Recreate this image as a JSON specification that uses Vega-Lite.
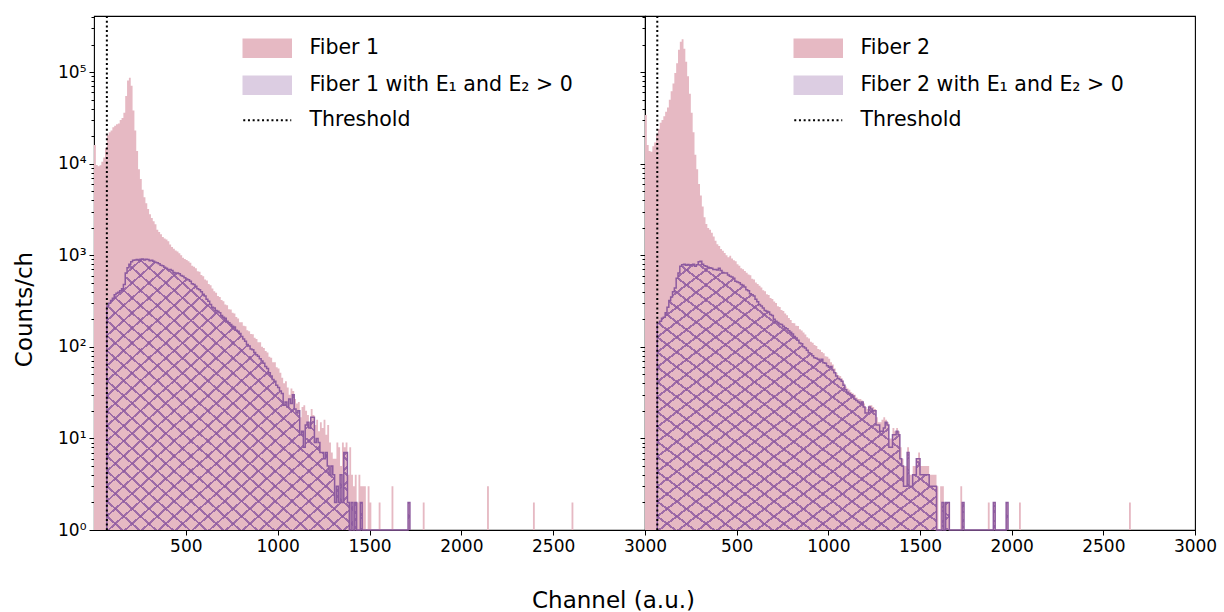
{
"$schema": "https://vega.github.io/schema/vega-lite/v6.json",
"autosize": {"type": "pad"},
"padding": {"left": 12, "top": 7, "right": 9, "bottom": 1},
"background": "white",
"spacing": 0,
"bounds": "flush",
"params": [
  {"name": "hatchA", "value": {"gradient": "linear", "x1": 0, "y1": 0, "x2": 1, "y2": 1, "stops": [
      {"offset":0,"color":"rgba(140,88,160,0.8)"},{"offset":0.0047,"color":"rgba(140,88,160,0.8)"},{"offset":0.0047,"color":"rgba(140,88,160,0)"},{"offset":0.0278,"color":"rgba(140,88,160,0)"},
      {"offset":0.0278,"color":"rgba(140,88,160,0.8)"},{"offset":0.0325,"color":"rgba(140,88,160,0.8)"},{"offset":0.0325,"color":"rgba(140,88,160,0)"},{"offset":0.0556,"color":"rgba(140,88,160,0)"},
      {"offset":0.0556,"color":"rgba(140,88,160,0.8)"},{"offset":0.0603,"color":"rgba(140,88,160,0.8)"},{"offset":0.0603,"color":"rgba(140,88,160,0)"},{"offset":0.0833,"color":"rgba(140,88,160,0)"},
      {"offset":0.0833,"color":"rgba(140,88,160,0.8)"},{"offset":0.0880,"color":"rgba(140,88,160,0.8)"},{"offset":0.0880,"color":"rgba(140,88,160,0)"},{"offset":0.1111,"color":"rgba(140,88,160,0)"},
      {"offset":0.1111,"color":"rgba(140,88,160,0.8)"},{"offset":0.1158,"color":"rgba(140,88,160,0.8)"},{"offset":0.1158,"color":"rgba(140,88,160,0)"},{"offset":0.1389,"color":"rgba(140,88,160,0)"},
      {"offset":0.1389,"color":"rgba(140,88,160,0.8)"},{"offset":0.1436,"color":"rgba(140,88,160,0.8)"},{"offset":0.1436,"color":"rgba(140,88,160,0)"},{"offset":0.1667,"color":"rgba(140,88,160,0)"},
      {"offset":0.1667,"color":"rgba(140,88,160,0.8)"},{"offset":0.1714,"color":"rgba(140,88,160,0.8)"},{"offset":0.1714,"color":"rgba(140,88,160,0)"},{"offset":0.1944,"color":"rgba(140,88,160,0)"},
      {"offset":0.1944,"color":"rgba(140,88,160,0.8)"},{"offset":0.1991,"color":"rgba(140,88,160,0.8)"},{"offset":0.1991,"color":"rgba(140,88,160,0)"},{"offset":0.2222,"color":"rgba(140,88,160,0)"},
      {"offset":0.2222,"color":"rgba(140,88,160,0.8)"},{"offset":0.2269,"color":"rgba(140,88,160,0.8)"},{"offset":0.2269,"color":"rgba(140,88,160,0)"},{"offset":0.25,"color":"rgba(140,88,160,0)"},
      {"offset":0.25,"color":"rgba(140,88,160,0.8)"},{"offset":0.2547,"color":"rgba(140,88,160,0.8)"},{"offset":0.2547,"color":"rgba(140,88,160,0)"},{"offset":0.2778,"color":"rgba(140,88,160,0)"},
      {"offset":0.2778,"color":"rgba(140,88,160,0.8)"},{"offset":0.2825,"color":"rgba(140,88,160,0.8)"},{"offset":0.2825,"color":"rgba(140,88,160,0)"},{"offset":0.3056,"color":"rgba(140,88,160,0)"},
      {"offset":0.3056,"color":"rgba(140,88,160,0.8)"},{"offset":0.3103,"color":"rgba(140,88,160,0.8)"},{"offset":0.3103,"color":"rgba(140,88,160,0)"},{"offset":0.3333,"color":"rgba(140,88,160,0)"},
      {"offset":0.3333,"color":"rgba(140,88,160,0.8)"},{"offset":0.3380,"color":"rgba(140,88,160,0.8)"},{"offset":0.3380,"color":"rgba(140,88,160,0)"},{"offset":0.3611,"color":"rgba(140,88,160,0)"},
      {"offset":0.3611,"color":"rgba(140,88,160,0.8)"},{"offset":0.3658,"color":"rgba(140,88,160,0.8)"},{"offset":0.3658,"color":"rgba(140,88,160,0)"},{"offset":0.3889,"color":"rgba(140,88,160,0)"},
      {"offset":0.3889,"color":"rgba(140,88,160,0.8)"},{"offset":0.3936,"color":"rgba(140,88,160,0.8)"},{"offset":0.3936,"color":"rgba(140,88,160,0)"},{"offset":0.4167,"color":"rgba(140,88,160,0)"},
      {"offset":0.4167,"color":"rgba(140,88,160,0.8)"},{"offset":0.4214,"color":"rgba(140,88,160,0.8)"},{"offset":0.4214,"color":"rgba(140,88,160,0)"},{"offset":0.4444,"color":"rgba(140,88,160,0)"},
      {"offset":0.4444,"color":"rgba(140,88,160,0.8)"},{"offset":0.4491,"color":"rgba(140,88,160,0.8)"},{"offset":0.4491,"color":"rgba(140,88,160,0)"},{"offset":0.4722,"color":"rgba(140,88,160,0)"},
      {"offset":0.4722,"color":"rgba(140,88,160,0.8)"},{"offset":0.4769,"color":"rgba(140,88,160,0.8)"},{"offset":0.4769,"color":"rgba(140,88,160,0)"},{"offset":0.5,"color":"rgba(140,88,160,0)"},
      {"offset":0.5,"color":"rgba(140,88,160,0.8)"},{"offset":0.5047,"color":"rgba(140,88,160,0.8)"},{"offset":0.5047,"color":"rgba(140,88,160,0)"},{"offset":0.5278,"color":"rgba(140,88,160,0)"},
      {"offset":0.5278,"color":"rgba(140,88,160,0.8)"},{"offset":0.5325,"color":"rgba(140,88,160,0.8)"},{"offset":0.5325,"color":"rgba(140,88,160,0)"},{"offset":0.5556,"color":"rgba(140,88,160,0)"},
      {"offset":0.5556,"color":"rgba(140,88,160,0.8)"},{"offset":0.5603,"color":"rgba(140,88,160,0.8)"},{"offset":0.5603,"color":"rgba(140,88,160,0)"},{"offset":0.5833,"color":"rgba(140,88,160,0)"},
      {"offset":0.5833,"color":"rgba(140,88,160,0.8)"},{"offset":0.5880,"color":"rgba(140,88,160,0.8)"},{"offset":0.5880,"color":"rgba(140,88,160,0)"},{"offset":0.6111,"color":"rgba(140,88,160,0)"},
      {"offset":0.6111,"color":"rgba(140,88,160,0.8)"},{"offset":0.6158,"color":"rgba(140,88,160,0.8)"},{"offset":0.6158,"color":"rgba(140,88,160,0)"},{"offset":0.6389,"color":"rgba(140,88,160,0)"},
      {"offset":0.6389,"color":"rgba(140,88,160,0.8)"},{"offset":0.6436,"color":"rgba(140,88,160,0.8)"},{"offset":0.6436,"color":"rgba(140,88,160,0)"},{"offset":0.6667,"color":"rgba(140,88,160,0)"},
      {"offset":0.6667,"color":"rgba(140,88,160,0.8)"},{"offset":0.6714,"color":"rgba(140,88,160,0.8)"},{"offset":0.6714,"color":"rgba(140,88,160,0)"},{"offset":0.6944,"color":"rgba(140,88,160,0)"},
      {"offset":0.6944,"color":"rgba(140,88,160,0.8)"},{"offset":0.6991,"color":"rgba(140,88,160,0.8)"},{"offset":0.6991,"color":"rgba(140,88,160,0)"},{"offset":0.7222,"color":"rgba(140,88,160,0)"},
      {"offset":0.7222,"color":"rgba(140,88,160,0.8)"},{"offset":0.7269,"color":"rgba(140,88,160,0.8)"},{"offset":0.7269,"color":"rgba(140,88,160,0)"},{"offset":0.75,"color":"rgba(140,88,160,0)"},
      {"offset":0.75,"color":"rgba(140,88,160,0.8)"},{"offset":0.7547,"color":"rgba(140,88,160,0.8)"},{"offset":0.7547,"color":"rgba(140,88,160,0)"},{"offset":0.7778,"color":"rgba(140,88,160,0)"},
      {"offset":0.7778,"color":"rgba(140,88,160,0.8)"},{"offset":0.7825,"color":"rgba(140,88,160,0.8)"},{"offset":0.7825,"color":"rgba(140,88,160,0)"},{"offset":0.8056,"color":"rgba(140,88,160,0)"},
      {"offset":0.8056,"color":"rgba(140,88,160,0.8)"},{"offset":0.8103,"color":"rgba(140,88,160,0.8)"},{"offset":0.8103,"color":"rgba(140,88,160,0)"},{"offset":0.8333,"color":"rgba(140,88,160,0)"},
      {"offset":0.8333,"color":"rgba(140,88,160,0.8)"},{"offset":0.8380,"color":"rgba(140,88,160,0.8)"},{"offset":0.8380,"color":"rgba(140,88,160,0)"},{"offset":0.8611,"color":"rgba(140,88,160,0)"},
      {"offset":0.8611,"color":"rgba(140,88,160,0.8)"},{"offset":0.8658,"color":"rgba(140,88,160,0.8)"},{"offset":0.8658,"color":"rgba(140,88,160,0)"},{"offset":0.8889,"color":"rgba(140,88,160,0)"},
      {"offset":0.8889,"color":"rgba(140,88,160,0.8)"},{"offset":0.8936,"color":"rgba(140,88,160,0.8)"},{"offset":0.8936,"color":"rgba(140,88,160,0)"},{"offset":0.9167,"color":"rgba(140,88,160,0)"},
      {"offset":0.9167,"color":"rgba(140,88,160,0.8)"},{"offset":0.9214,"color":"rgba(140,88,160,0.8)"},{"offset":0.9214,"color":"rgba(140,88,160,0)"},{"offset":0.9444,"color":"rgba(140,88,160,0)"},
      {"offset":0.9444,"color":"rgba(140,88,160,0.8)"},{"offset":0.9491,"color":"rgba(140,88,160,0.8)"},{"offset":0.9491,"color":"rgba(140,88,160,0)"},{"offset":0.9722,"color":"rgba(140,88,160,0)"},
      {"offset":0.9722,"color":"rgba(140,88,160,0.8)"},{"offset":0.9769,"color":"rgba(140,88,160,0.8)"},{"offset":0.9769,"color":"rgba(140,88,160,0)"},{"offset":1,"color":"rgba(140,88,160,0)"}
    ]}},
  {"name": "hatchB", "value": {"gradient": "linear", "x1": 1, "y1": 0, "x2": 0, "y2": 1, "stops": [
      {"offset":0,"color":"rgba(140,88,160,0.8)"},{"offset":0.0047,"color":"rgba(140,88,160,0.8)"},{"offset":0.0047,"color":"rgba(140,88,160,0)"},{"offset":0.0278,"color":"rgba(140,88,160,0)"},
      {"offset":0.0278,"color":"rgba(140,88,160,0.8)"},{"offset":0.0325,"color":"rgba(140,88,160,0.8)"},{"offset":0.0325,"color":"rgba(140,88,160,0)"},{"offset":0.0556,"color":"rgba(140,88,160,0)"},
      {"offset":0.0556,"color":"rgba(140,88,160,0.8)"},{"offset":0.0603,"color":"rgba(140,88,160,0.8)"},{"offset":0.0603,"color":"rgba(140,88,160,0)"},{"offset":0.0833,"color":"rgba(140,88,160,0)"},
      {"offset":0.0833,"color":"rgba(140,88,160,0.8)"},{"offset":0.0880,"color":"rgba(140,88,160,0.8)"},{"offset":0.0880,"color":"rgba(140,88,160,0)"},{"offset":0.1111,"color":"rgba(140,88,160,0)"},
      {"offset":0.1111,"color":"rgba(140,88,160,0.8)"},{"offset":0.1158,"color":"rgba(140,88,160,0.8)"},{"offset":0.1158,"color":"rgba(140,88,160,0)"},{"offset":0.1389,"color":"rgba(140,88,160,0)"},
      {"offset":0.1389,"color":"rgba(140,88,160,0.8)"},{"offset":0.1436,"color":"rgba(140,88,160,0.8)"},{"offset":0.1436,"color":"rgba(140,88,160,0)"},{"offset":0.1667,"color":"rgba(140,88,160,0)"},
      {"offset":0.1667,"color":"rgba(140,88,160,0.8)"},{"offset":0.1714,"color":"rgba(140,88,160,0.8)"},{"offset":0.1714,"color":"rgba(140,88,160,0)"},{"offset":0.1944,"color":"rgba(140,88,160,0)"},
      {"offset":0.1944,"color":"rgba(140,88,160,0.8)"},{"offset":0.1991,"color":"rgba(140,88,160,0.8)"},{"offset":0.1991,"color":"rgba(140,88,160,0)"},{"offset":0.2222,"color":"rgba(140,88,160,0)"},
      {"offset":0.2222,"color":"rgba(140,88,160,0.8)"},{"offset":0.2269,"color":"rgba(140,88,160,0.8)"},{"offset":0.2269,"color":"rgba(140,88,160,0)"},{"offset":0.25,"color":"rgba(140,88,160,0)"},
      {"offset":0.25,"color":"rgba(140,88,160,0.8)"},{"offset":0.2547,"color":"rgba(140,88,160,0.8)"},{"offset":0.2547,"color":"rgba(140,88,160,0)"},{"offset":0.2778,"color":"rgba(140,88,160,0)"},
      {"offset":0.2778,"color":"rgba(140,88,160,0.8)"},{"offset":0.2825,"color":"rgba(140,88,160,0.8)"},{"offset":0.2825,"color":"rgba(140,88,160,0)"},{"offset":0.3056,"color":"rgba(140,88,160,0)"},
      {"offset":0.3056,"color":"rgba(140,88,160,0.8)"},{"offset":0.3103,"color":"rgba(140,88,160,0.8)"},{"offset":0.3103,"color":"rgba(140,88,160,0)"},{"offset":0.3333,"color":"rgba(140,88,160,0)"},
      {"offset":0.3333,"color":"rgba(140,88,160,0.8)"},{"offset":0.3380,"color":"rgba(140,88,160,0.8)"},{"offset":0.3380,"color":"rgba(140,88,160,0)"},{"offset":0.3611,"color":"rgba(140,88,160,0)"},
      {"offset":0.3611,"color":"rgba(140,88,160,0.8)"},{"offset":0.3658,"color":"rgba(140,88,160,0.8)"},{"offset":0.3658,"color":"rgba(140,88,160,0)"},{"offset":0.3889,"color":"rgba(140,88,160,0)"},
      {"offset":0.3889,"color":"rgba(140,88,160,0.8)"},{"offset":0.3936,"color":"rgba(140,88,160,0.8)"},{"offset":0.3936,"color":"rgba(140,88,160,0)"},{"offset":0.4167,"color":"rgba(140,88,160,0)"},
      {"offset":0.4167,"color":"rgba(140,88,160,0.8)"},{"offset":0.4214,"color":"rgba(140,88,160,0.8)"},{"offset":0.4214,"color":"rgba(140,88,160,0)"},{"offset":0.4444,"color":"rgba(140,88,160,0)"},
      {"offset":0.4444,"color":"rgba(140,88,160,0.8)"},{"offset":0.4491,"color":"rgba(140,88,160,0.8)"},{"offset":0.4491,"color":"rgba(140,88,160,0)"},{"offset":0.4722,"color":"rgba(140,88,160,0)"},
      {"offset":0.4722,"color":"rgba(140,88,160,0.8)"},{"offset":0.4769,"color":"rgba(140,88,160,0.8)"},{"offset":0.4769,"color":"rgba(140,88,160,0)"},{"offset":0.5,"color":"rgba(140,88,160,0)"},
      {"offset":0.5,"color":"rgba(140,88,160,0.8)"},{"offset":0.5047,"color":"rgba(140,88,160,0.8)"},{"offset":0.5047,"color":"rgba(140,88,160,0)"},{"offset":0.5278,"color":"rgba(140,88,160,0)"},
      {"offset":0.5278,"color":"rgba(140,88,160,0.8)"},{"offset":0.5325,"color":"rgba(140,88,160,0.8)"},{"offset":0.5325,"color":"rgba(140,88,160,0)"},{"offset":0.5556,"color":"rgba(140,88,160,0)"},
      {"offset":0.5556,"color":"rgba(140,88,160,0.8)"},{"offset":0.5603,"color":"rgba(140,88,160,0.8)"},{"offset":0.5603,"color":"rgba(140,88,160,0)"},{"offset":0.5833,"color":"rgba(140,88,160,0)"},
      {"offset":0.5833,"color":"rgba(140,88,160,0.8)"},{"offset":0.5880,"color":"rgba(140,88,160,0.8)"},{"offset":0.5880,"color":"rgba(140,88,160,0)"},{"offset":0.6111,"color":"rgba(140,88,160,0)"},
      {"offset":0.6111,"color":"rgba(140,88,160,0.8)"},{"offset":0.6158,"color":"rgba(140,88,160,0.8)"},{"offset":0.6158,"color":"rgba(140,88,160,0)"},{"offset":0.6389,"color":"rgba(140,88,160,0)"},
      {"offset":0.6389,"color":"rgba(140,88,160,0.8)"},{"offset":0.6436,"color":"rgba(140,88,160,0.8)"},{"offset":0.6436,"color":"rgba(140,88,160,0)"},{"offset":0.6667,"color":"rgba(140,88,160,0)"},
      {"offset":0.6667,"color":"rgba(140,88,160,0.8)"},{"offset":0.6714,"color":"rgba(140,88,160,0.8)"},{"offset":0.6714,"color":"rgba(140,88,160,0)"},{"offset":0.6944,"color":"rgba(140,88,160,0)"},
      {"offset":0.6944,"color":"rgba(140,88,160,0.8)"},{"offset":0.6991,"color":"rgba(140,88,160,0.8)"},{"offset":0.6991,"color":"rgba(140,88,160,0)"},{"offset":0.7222,"color":"rgba(140,88,160,0)"},
      {"offset":0.7222,"color":"rgba(140,88,160,0.8)"},{"offset":0.7269,"color":"rgba(140,88,160,0.8)"},{"offset":0.7269,"color":"rgba(140,88,160,0)"},{"offset":0.75,"color":"rgba(140,88,160,0)"},
      {"offset":0.75,"color":"rgba(140,88,160,0.8)"},{"offset":0.7547,"color":"rgba(140,88,160,0.8)"},{"offset":0.7547,"color":"rgba(140,88,160,0)"},{"offset":0.7778,"color":"rgba(140,88,160,0)"},
      {"offset":0.7778,"color":"rgba(140,88,160,0.8)"},{"offset":0.7825,"color":"rgba(140,88,160,0.8)"},{"offset":0.7825,"color":"rgba(140,88,160,0)"},{"offset":0.8056,"color":"rgba(140,88,160,0)"},
      {"offset":0.8056,"color":"rgba(140,88,160,0.8)"},{"offset":0.8103,"color":"rgba(140,88,160,0.8)"},{"offset":0.8103,"color":"rgba(140,88,160,0)"},{"offset":0.8333,"color":"rgba(140,88,160,0)"},
      {"offset":0.8333,"color":"rgba(140,88,160,0.8)"},{"offset":0.8380,"color":"rgba(140,88,160,0.8)"},{"offset":0.8380,"color":"rgba(140,88,160,0)"},{"offset":0.8611,"color":"rgba(140,88,160,0)"},
      {"offset":0.8611,"color":"rgba(140,88,160,0.8)"},{"offset":0.8658,"color":"rgba(140,88,160,0.8)"},{"offset":0.8658,"color":"rgba(140,88,160,0)"},{"offset":0.8889,"color":"rgba(140,88,160,0)"},
      {"offset":0.8889,"color":"rgba(140,88,160,0.8)"},{"offset":0.8936,"color":"rgba(140,88,160,0.8)"},{"offset":0.8936,"color":"rgba(140,88,160,0)"},{"offset":0.9167,"color":"rgba(140,88,160,0)"},
      {"offset":0.9167,"color":"rgba(140,88,160,0.8)"},{"offset":0.9214,"color":"rgba(140,88,160,0.8)"},{"offset":0.9214,"color":"rgba(140,88,160,0)"},{"offset":0.9444,"color":"rgba(140,88,160,0)"},
      {"offset":0.9444,"color":"rgba(140,88,160,0.8)"},{"offset":0.9491,"color":"rgba(140,88,160,0.8)"},{"offset":0.9491,"color":"rgba(140,88,160,0)"},{"offset":0.9722,"color":"rgba(140,88,160,0)"},
      {"offset":0.9722,"color":"rgba(140,88,160,0.8)"},{"offset":0.9769,"color":"rgba(140,88,160,0.8)"},{"offset":0.9769,"color":"rgba(140,88,160,0)"},{"offset":1,"color":"rgba(140,88,160,0)"}
    ]}}
],
"config": {
  "font": "DejaVu Sans",
  "view": {"stroke": "black", "strokeWidth": 1.1},
  "axis": {"labelFont": "DejaVu Sans", "titleFont": "DejaVu Sans", "tickColor": "black", "labelColor": "black", "titleColor": "black", "domain": false, "grid": false, "labelFlush": false, "labelOverlap": false, "labelBound": false, "tickWidth": 1, "labelFontSize": 17, "labelPadding": 3, "titleFontWeight": "normal", "titleFontSize": 23},
  "legend": {"labelFont": "DejaVu Sans", "labelFontSize": 20.5, "labelColor": "black", "labelLimit": 0}
},
"datasets": {
  "p1": [{"c":0,"n":16000},{"c":10,"n":9700},{"c":20,"n":9400},{"c":30,"n":9600},{"c":40,"n":10500},{"c":50,"n":11700},{"c":60,"n":14800},{"c":70,"n":20400},{"c":80,"n":22000},{"c":90,"n":23000},{"c":100,"n":25000},{"c":110,"n":26000},{"c":120,"n":27000},{"c":130,"n":27500},{"c":140,"n":30000},{"c":150,"n":31500},{"c":160,"n":36000},{"c":170,"n":55000},{"c":180,"n":81000},{"c":190,"n":87000},{"c":200,"n":71000},{"c":210,"n":38000},{"c":220,"n":23000},{"c":230,"n":13800},{"c":240,"n":8700},{"c":250,"n":6800},{"c":260,"n":5200},{"c":270,"n":4300},{"c":280,"n":3700},{"c":290,"n":3200},{"c":300,"n":2800},{"c":310,"n":2550},{"c":320,"n":2350},{"c":330,"n":2180},{"c":340,"n":1900},{"c":350,"n":1800},{"c":360,"n":1700},{"c":370,"n":1580},{"c":380,"n":1520},{"c":390,"n":1490},{"c":400,"n":1420},{"c":410,"n":1310},{"c":420,"n":1230},{"c":430,"n":1180},{"c":440,"n":1130},{"c":450,"n":1100},{"c":460,"n":1050},{"c":470,"n":1000},{"c":480,"n":940},{"c":490,"n":910},{"c":500,"n":890},{"c":510,"n":860},{"c":520,"n":830},{"c":530,"n":770},{"c":540,"n":750},{"c":550,"n":720},{"c":560,"n":670},{"c":570,"n":660},{"c":580,"n":610},{"c":590,"n":590},{"c":600,"n":545},{"c":610,"n":530},{"c":620,"n":485},{"c":630,"n":470},{"c":640,"n":435},{"c":650,"n":405},{"c":660,"n":390},{"c":670,"n":360},{"c":680,"n":350},{"c":690,"n":325},{"c":700,"n":315},{"c":710,"n":290},{"c":720,"n":285},{"c":730,"n":258},{"c":740,"n":255},{"c":750,"n":236},{"c":760,"n":232},{"c":770,"n":212},{"c":780,"n":204},{"c":790,"n":186},{"c":800,"n":186},{"c":810,"n":170},{"c":820,"n":168},{"c":830,"n":152},{"c":840,"n":148},{"c":850,"n":138},{"c":860,"n":137},{"c":870,"n":126},{"c":880,"n":122},{"c":890,"n":112},{"c":900,"n":112},{"c":910,"n":100},{"c":920,"n":97},{"c":930,"n":90},{"c":940,"n":87},{"c":950,"n":78},{"c":960,"n":76},{"c":970,"n":68},{"c":980,"n":68},{"c":990,"n":60},{"c":1000,"n":58},{"c":1010,"n":52},{"c":1020,"n":46},{"c":1030,"n":40},{"c":1040,"n":42},{"c":1050,"n":36},{"c":1060,"n":30},{"c":1070,"n":35},{"c":1080,"n":33},{"c":1090,"n":27},{"c":1100,"n":24},{"c":1110,"n":25},{"c":1120,"n":17},{"c":1130,"n":22},{"c":1140,"n":23},{"c":1150,"n":20},{"c":1160,"n":18},{"c":1170,"n":15},{"c":1180,"n":21},{"c":1190,"n":18},{"c":1200,"n":14},{"c":1210,"n":16},{"c":1220,"n":12},{"c":1230,"n":15},{"c":1240,"n":13},{"c":1250,"n":16},{"c":1260,"n":11},{"c":1270,"n":14},{"c":1280,"n":9},{"c":1290,"n":7},{"c":1300,"n":6},{"c":1310,"n":6},{"c":1320,"n":9},{"c":1330,"n":8},{"c":1340,"n":5},{"c":1350,"n":9},{"c":1360,"n":8},{"c":1370,"n":9},{"c":1380,"n":4},{"c":1390,"n":8},{"c":1400,"n":4},{"c":1410,"n":3},{"c":1420,"n":4},{"c":1430,"n":2},{"c":1440,"n":4},{"c":1450,"n":3},{"c":1460,"n":3},{"c":1470,"n":3},{"c":1480,"n":1},{"c":1490,"n":3},{"c":1500,"n":2},{"c":1510,"n":1},{"c":1550,"n":2},{"c":1560,"n":1},{"c":1620,"n":3},{"c":1630,"n":1},{"c":1710,"n":2},{"c":1720,"n":1},{"c":1790,"n":2},{"c":1800,"n":1},{"c":2140,"n":3},{"c":2150,"n":1},{"c":2390,"n":2},{"c":2400,"n":1},{"c":2600,"n":2},{"c":2610,"n":1}],
  "h1": [{"c":70,"n":1},{"c":70,"n":280},{"c":80,"n":300},{"c":90,"n":320},{"c":100,"n":340},{"c":110,"n":370},{"c":120,"n":385},{"c":130,"n":395},{"c":140,"n":410},{"c":150,"n":430},{"c":160,"n":480},{"c":170,"n":640},{"c":180,"n":730},{"c":190,"n":800},{"c":200,"n":850},{"c":210,"n":880},{"c":220,"n":890},{"c":230,"n":900},{"c":240,"n":880},{"c":250,"n":905},{"c":260,"n":910},{"c":270,"n":890},{"c":280,"n":905},{"c":290,"n":900},{"c":300,"n":870},{"c":310,"n":880},{"c":320,"n":860},{"c":330,"n":840},{"c":340,"n":830},{"c":350,"n":810},{"c":360,"n":780},{"c":370,"n":770},{"c":380,"n":740},{"c":390,"n":720},{"c":400,"n":700},{"c":410,"n":700},{"c":420,"n":680},{"c":430,"n":650},{"c":440,"n":640},{"c":450,"n":640},{"c":460,"n":630},{"c":470,"n":600},{"c":480,"n":590},{"c":490,"n":570},{"c":500,"n":550},{"c":510,"n":540},{"c":520,"n":520},{"c":530,"n":490},{"c":540,"n":480},{"c":550,"n":460},{"c":560,"n":430},{"c":570,"n":420},{"c":580,"n":400},{"c":590,"n":375},{"c":600,"n":360},{"c":610,"n":330},{"c":620,"n":315},{"c":630,"n":290},{"c":640,"n":270},{"c":650,"n":265},{"c":660,"n":250},{"c":670,"n":245},{"c":680,"n":235},{"c":690,"n":220},{"c":700,"n":210},{"c":710,"n":205},{"c":720,"n":190},{"c":730,"n":183},{"c":740,"n":175},{"c":750,"n":168},{"c":760,"n":165},{"c":770,"n":152},{"c":780,"n":148},{"c":790,"n":140},{"c":800,"n":130},{"c":810,"n":122},{"c":820,"n":115},{"c":830,"n":106},{"c":840,"n":102},{"c":850,"n":95},{"c":860,"n":93},{"c":870,"n":87},{"c":880,"n":82},{"c":890,"n":79},{"c":900,"n":74},{"c":910,"n":70},{"c":920,"n":66},{"c":930,"n":61},{"c":940,"n":58},{"c":950,"n":52},{"c":960,"n":48},{"c":970,"n":44},{"c":980,"n":42},{"c":990,"n":38},{"c":1000,"n":36},{"c":1010,"n":33},{"c":1020,"n":31},{"c":1030,"n":23},{"c":1040,"n":25},{"c":1050,"n":22},{"c":1060,"n":27},{"c":1070,"n":24},{"c":1080,"n":30},{"c":1090,"n":21},{"c":1100,"n":19},{"c":1110,"n":20},{"c":1120,"n":11},{"c":1130,"n":12},{"c":1140,"n":8},{"c":1150,"n":14},{"c":1160,"n":15},{"c":1170,"n":13},{"c":1180,"n":17},{"c":1190,"n":17},{"c":1200,"n":9},{"c":1210,"n":10},{"c":1220,"n":9},{"c":1230,"n":7},{"c":1240,"n":7},{"c":1250,"n":6},{"c":1260,"n":7},{"c":1270,"n":5},{"c":1280,"n":4},{"c":1290,"n":5},{"c":1300,"n":4},{"c":1310,"n":2},{"c":1320,"n":3},{"c":1330,"n":2},{"c":1340,"n":4},{"c":1350,"n":2},{"c":1360,"n":7},{"c":1370,"n":7},{"c":1380,"n":2},{"c":1390,"n":1},{"c":1400,"n":2},{"c":1410,"n":1},{"c":1420,"n":2},{"c":1430,"n":1},{"c":1450,"n":2},{"c":1460,"n":1},{"c":1710,"n":2},{"c":1720,"n":1}],
  "p2": [{"c":0,"n":34000},{"c":10,"n":16000},{"c":20,"n":13800},{"c":30,"n":13500},{"c":40,"n":15500},{"c":50,"n":17000},{"c":60,"n":21000},{"c":70,"n":24000},{"c":80,"n":28000},{"c":90,"n":30000},{"c":100,"n":33000},{"c":110,"n":37000},{"c":120,"n":41000},{"c":130,"n":50000},{"c":140,"n":62000},{"c":150,"n":75000},{"c":160,"n":98000},{"c":170,"n":125000},{"c":180,"n":175000},{"c":190,"n":215000},{"c":200,"n":229000},{"c":210,"n":180000},{"c":220,"n":130000},{"c":230,"n":90000},{"c":240,"n":58000},{"c":250,"n":36000},{"c":260,"n":22000},{"c":270,"n":12500},{"c":280,"n":8700},{"c":290,"n":6000},{"c":300,"n":4500},{"c":310,"n":3400},{"c":320,"n":2600},{"c":330,"n":2200},{"c":340,"n":1990},{"c":350,"n":1900},{"c":360,"n":1760},{"c":370,"n":1600},{"c":380,"n":1440},{"c":390,"n":1320},{"c":400,"n":1260},{"c":410,"n":1170},{"c":420,"n":1120},{"c":430,"n":1060},{"c":440,"n":1000},{"c":450,"n":950},{"c":460,"n":990},{"c":470,"n":920},{"c":480,"n":880},{"c":490,"n":860},{"c":500,"n":800},{"c":510,"n":770},{"c":520,"n":720},{"c":530,"n":705},{"c":540,"n":675},{"c":550,"n":645},{"c":560,"n":615},{"c":570,"n":605},{"c":580,"n":555},{"c":590,"n":545},{"c":600,"n":505},{"c":610,"n":485},{"c":620,"n":465},{"c":630,"n":445},{"c":640,"n":415},{"c":650,"n":405},{"c":660,"n":375},{"c":670,"n":368},{"c":680,"n":342},{"c":690,"n":333},{"c":700,"n":312},{"c":710,"n":302},{"c":720,"n":278},{"c":730,"n":272},{"c":740,"n":252},{"c":750,"n":247},{"c":760,"n":232},{"c":770,"n":222},{"c":780,"n":207},{"c":790,"n":197},{"c":800,"n":182},{"c":810,"n":181},{"c":820,"n":170},{"c":830,"n":169},{"c":840,"n":156},{"c":850,"n":151},{"c":860,"n":143},{"c":870,"n":136},{"c":880,"n":127},{"c":890,"n":123},{"c":900,"n":114},{"c":910,"n":111},{"c":920,"n":105},{"c":930,"n":102},{"c":940,"n":95},{"c":950,"n":93},{"c":960,"n":88},{"c":970,"n":85},{"c":980,"n":79},{"c":990,"n":78},{"c":1000,"n":74},{"c":1010,"n":68},{"c":1020,"n":64},{"c":1030,"n":58},{"c":1040,"n":52},{"c":1050,"n":49},{"c":1060,"n":48},{"c":1070,"n":45},{"c":1080,"n":40},{"c":1090,"n":37},{"c":1100,"n":35},{"c":1110,"n":34},{"c":1120,"n":32},{"c":1130,"n":31},{"c":1140,"n":30},{"c":1150,"n":28},{"c":1160,"n":27},{"c":1170,"n":27},{"c":1180,"n":26},{"c":1190,"n":24},{"c":1200,"n":22},{"c":1210,"n":21},{"c":1220,"n":23},{"c":1230,"n":23},{"c":1240,"n":22},{"c":1250,"n":21},{"c":1260,"n":17},{"c":1270,"n":15},{"c":1280,"n":15},{"c":1290,"n":16},{"c":1300,"n":17},{"c":1310,"n":16},{"c":1320,"n":15},{"c":1330,"n":10},{"c":1340,"n":10},{"c":1350,"n":13},{"c":1360,"n":12},{"c":1370,"n":13},{"c":1380,"n":12},{"c":1390,"n":8},{"c":1400,"n":6},{"c":1410,"n":5},{"c":1420,"n":5},{"c":1430,"n":8},{"c":1440,"n":4},{"c":1450,"n":4},{"c":1460,"n":5},{"c":1470,"n":5},{"c":1480,"n":6},{"c":1490,"n":7},{"c":1500,"n":5},{"c":1510,"n":5},{"c":1520,"n":5},{"c":1530,"n":5},{"c":1540,"n":5},{"c":1550,"n":4},{"c":1560,"n":4},{"c":1570,"n":4},{"c":1580,"n":4},{"c":1590,"n":3},{"c":1600,"n":1},{"c":1610,"n":3},{"c":1620,"n":3},{"c":1630,"n":2},{"c":1640,"n":2},{"c":1650,"n":2},{"c":1660,"n":1},{"c":1720,"n":3},{"c":1730,"n":2},{"c":1740,"n":1},{"c":1870,"n":2},{"c":1880,"n":1},{"c":1900,"n":2},{"c":1910,"n":1},{"c":1970,"n":2},{"c":1980,"n":1},{"c":2040,"n":2},{"c":2050,"n":1},{"c":2640,"n":2},{"c":2650,"n":1}],
  "h2": [{"c":67,"n":1},{"c":67,"n":180},{"c":80,"n":190},{"c":90,"n":205},{"c":100,"n":210},{"c":110,"n":235},{"c":120,"n":270},{"c":130,"n":320},{"c":140,"n":350},{"c":150,"n":400},{"c":160,"n":440},{"c":170,"n":560},{"c":180,"n":640},{"c":190,"n":760},{"c":200,"n":790},{"c":210,"n":800},{"c":220,"n":780},{"c":230,"n":795},{"c":240,"n":780},{"c":250,"n":790},{"c":260,"n":800},{"c":270,"n":760},{"c":280,"n":790},{"c":290,"n":850},{"c":300,"n":860},{"c":310,"n":800},{"c":320,"n":770},{"c":330,"n":760},{"c":340,"n":740},{"c":350,"n":730},{"c":360,"n":720},{"c":370,"n":700},{"c":380,"n":700},{"c":390,"n":690},{"c":400,"n":720},{"c":410,"n":680},{"c":420,"n":650},{"c":430,"n":640},{"c":440,"n":640},{"c":450,"n":610},{"c":460,"n":590},{"c":470,"n":580},{"c":480,"n":560},{"c":490,"n":520},{"c":500,"n":510},{"c":510,"n":500},{"c":520,"n":480},{"c":530,"n":470},{"c":540,"n":450},{"c":550,"n":420},{"c":560,"n":410},{"c":570,"n":380},{"c":580,"n":370},{"c":590,"n":360},{"c":600,"n":330},{"c":610,"n":310},{"c":620,"n":290},{"c":630,"n":280},{"c":640,"n":265},{"c":650,"n":250},{"c":660,"n":245},{"c":670,"n":240},{"c":680,"n":226},{"c":690,"n":220},{"c":700,"n":200},{"c":710,"n":190},{"c":720,"n":185},{"c":730,"n":178},{"c":740,"n":175},{"c":750,"n":168},{"c":760,"n":162},{"c":770,"n":158},{"c":780,"n":150},{"c":790,"n":144},{"c":800,"n":138},{"c":810,"n":130},{"c":820,"n":125},{"c":830,"n":118},{"c":840,"n":110},{"c":850,"n":108},{"c":860,"n":100},{"c":870,"n":97},{"c":880,"n":92},{"c":890,"n":86},{"c":900,"n":84},{"c":910,"n":80},{"c":920,"n":76},{"c":930,"n":75},{"c":940,"n":73},{"c":950,"n":70},{"c":960,"n":73},{"c":970,"n":67},{"c":980,"n":66},{"c":990,"n":62},{"c":1000,"n":60},{"c":1010,"n":61},{"c":1020,"n":56},{"c":1030,"n":52},{"c":1040,"n":48},{"c":1050,"n":45},{"c":1060,"n":44},{"c":1070,"n":42},{"c":1080,"n":38},{"c":1090,"n":34},{"c":1100,"n":32},{"c":1110,"n":31},{"c":1120,"n":30},{"c":1130,"n":29},{"c":1140,"n":27},{"c":1150,"n":26},{"c":1160,"n":25},{"c":1170,"n":24},{"c":1180,"n":25},{"c":1190,"n":22},{"c":1200,"n":19},{"c":1210,"n":19},{"c":1220,"n":22},{"c":1230,"n":21},{"c":1240,"n":20},{"c":1250,"n":20},{"c":1260,"n":14},{"c":1270,"n":14},{"c":1280,"n":12},{"c":1290,"n":12},{"c":1300,"n":13},{"c":1310,"n":15},{"c":1320,"n":14},{"c":1330,"n":8},{"c":1340,"n":8},{"c":1350,"n":11},{"c":1360,"n":11},{"c":1370,"n":12},{"c":1380,"n":11},{"c":1390,"n":6},{"c":1400,"n":5},{"c":1410,"n":3},{"c":1420,"n":3},{"c":1430,"n":7},{"c":1440,"n":3},{"c":1450,"n":3},{"c":1460,"n":4},{"c":1470,"n":4},{"c":1480,"n":6},{"c":1490,"n":6},{"c":1500,"n":4},{"c":1510,"n":4},{"c":1520,"n":4},{"c":1530,"n":4},{"c":1540,"n":4},{"c":1550,"n":3},{"c":1560,"n":3},{"c":1570,"n":3},{"c":1580,"n":3},{"c":1590,"n":1},{"c":1620,"n":2},{"c":1630,"n":1},{"c":1640,"n":2},{"c":1660,"n":1},{"c":1730,"n":2},{"c":1740,"n":1},{"c":1900,"n":2},{"c":1910,"n":1},{"c":1970,"n":2},{"c":1980,"n":1}],
  "t1": [{"t":70}],
  "t2": [{"t":67}]
},
"resolve": {"scale": {"x": "independent", "y": "independent", "color": "independent"}, "legend": {"color": "independent"}},
"hconcat": [
{
  "width": 551, "height": 514,
  "layer": [
    {"data": {"name": "p1"}, "mark": {"type": "area", "interpolate": "step-after"},
     "encoding": {
       "x": {"field": "c", "type": "quantitative", "scale": {"domain": [0, 3000], "nice": false},
             "axis": {"values": [500, 1000, 1500, 2000, 2500, 3000], "format": "d", "tickSize": 5, "title": "Channel (a.u.)", "titleX": 519, "titleY": 77, "titleAlign": "center", "titleBaseline": "alphabetic", "titleAnchor": null}},
       "y": {"field": "n", "type": "quantitative", "scale": {"type": "log", "domain": [1, 410000], "nice": false},
             "axis": {"values": [1,2,3,4,5,6,7,8,9,10,20,30,40,50,60,70,80,90,100,200,300,400,500,600,700,800,900,1000,2000,3000,4000,5000,6000,7000,8000,9000,10000,20000,30000,40000,50000,60000,70000,80000,90000,100000,200000,300000,400000],
                      "labelExpr": "datum.value == 1 ? '10⁰' : datum.value == 10 ? '10¹' : datum.value == 100 ? '10²' : datum.value == 1000 ? '10³' : datum.value == 10000 ? '10⁴' : datum.value == 100000 ? '10⁵' : ''",
                      "tickSize": {"condition": {"test": "datum.value == 1 || datum.value == 10 || datum.value == 100 || datum.value == 1000 || datum.value == 10000 || datum.value == 100000", "value": 5}, "value": 3},
                      "title": "Counts/ch", "titleAngle": 270, "titleX": -63, "titleY": 293, "titleAlign": "center", "titleBaseline": "alphabetic"}},
       "y2": {"datum": 1},
       "color": {"datum": "Fiber 1", "type": "nominal",
         "scale": {"domain": ["Fiber 1", "Fiber 1 with E₁ and E₂ > 0", "Threshold"], "range": ["#e6b9c3", "#dccde2", "black"]},
         "legend": {"orient": "none", "legendX": 163, "legendY": 22, "title": null, "padding": 0, "symbolSize": 2304, "labelOffset": 32, "rowPadding": 12,
           "symbolType": "M-1,-0.375H1V0.375H-1Z",
           "encode": {"symbols": {"update": {
             "shape": {"signal": "datum.value === 'Threshold' ? 'M-1,0H1' : 'M-1,-0.375H1V0.375H-1Z'"},
             "fill": {"signal": "datum.value === 'Threshold' ? 'transparent' : indexof(datum.value, 'with') > 0 ? '#dccde2' : '#e6b9c3'"},
             "stroke": {"signal": "datum.value === 'Threshold' ? 'black' : indexof(datum.value, 'with') > 0 ? '#8c5a9f' : 'transparent'"},
             "strokeWidth": {"signal": "datum.value === 'Threshold' ? 2 : 1.5"},
             "strokeDash": {"signal": "datum.value === 'Threshold' ? [2, 2.7] : null"},
             "opacity": {"value": 1}}}}}}
     }},
    {"data": {"name": "h1"}, "mark": {"type": "area", "interpolate": "step-after", "fill": {"expr": "hatchA"}},
     "encoding": {"x": {"field": "c", "type": "quantitative"}, "y": {"field": "n", "type": "quantitative"}, "y2": {"datum": 1}}},
    {"data": {"name": "h1"}, "mark": {"type": "area", "interpolate": "step-after", "fill": {"expr": "hatchB"}},
     "encoding": {"x": {"field": "c", "type": "quantitative"}, "y": {"field": "n", "type": "quantitative"}, "y2": {"datum": 1}}},
    {"data": {"name": "h1"}, "mark": {"type": "line", "interpolate": "step-after", "color": "#8c5a9f", "strokeWidth": 1.5},
     "encoding": {"x": {"field": "c", "type": "quantitative"}, "y": {"field": "n", "type": "quantitative"}}},
    {"data": {"name": "t1"}, "mark": {"type": "rule", "strokeDash": [2, 2.7], "strokeWidth": 2},
     "encoding": {"x": {"field": "t", "type": "quantitative"}, "color": {"datum": "Threshold", "type": "nominal"}}}
  ]
},
{
  "width": 550, "height": 514,
  "layer": [
    {"data": {"name": "p2"}, "mark": {"type": "area", "interpolate": "step-after"},
     "encoding": {
       "x": {"field": "c", "type": "quantitative", "scale": {"domain": [0, 3000], "nice": false},
             "axis": {"values": [500, 1000, 1500, 2000, 2500, 3000], "format": "d", "tickSize": 5, "title": null}},
       "y": {"field": "n", "type": "quantitative", "scale": {"type": "log", "domain": [1, 410000], "nice": false},
             "axis": {"values": [1,2,3,4,5,6,7,8,9,10,20,30,40,50,60,70,80,90,100,200,300,400,500,600,700,800,900,1000,2000,3000,4000,5000,6000,7000,8000,9000,10000,20000,30000,40000,50000,60000,70000,80000,90000,100000,200000,300000,400000],
                      "labels": false, "title": null,
                      "tickSize": {"condition": {"test": "datum.value == 1 || datum.value == 10 || datum.value == 100 || datum.value == 1000 || datum.value == 10000 || datum.value == 100000", "value": 5}, "value": 3}}},
       "y2": {"datum": 1},
       "color": {"datum": "Fiber 2", "type": "nominal",
         "scale": {"domain": ["Fiber 2", "Fiber 2 with E₁ and E₂ > 0", "Threshold"], "range": ["#e6b9c3", "#dccde2", "black"]},
         "legend": {"orient": "none", "legendX": 163, "legendY": 22, "title": null, "padding": 0, "symbolSize": 2304, "labelOffset": 32, "rowPadding": 12,
           "symbolType": "M-1,-0.375H1V0.375H-1Z",
           "encode": {"symbols": {"update": {
             "shape": {"signal": "datum.value === 'Threshold' ? 'M-1,0H1' : 'M-1,-0.375H1V0.375H-1Z'"},
             "fill": {"signal": "datum.value === 'Threshold' ? 'transparent' : indexof(datum.value, 'with') > 0 ? '#dccde2' : '#e6b9c3'"},
             "stroke": {"signal": "datum.value === 'Threshold' ? 'black' : indexof(datum.value, 'with') > 0 ? '#8c5a9f' : 'transparent'"},
             "strokeWidth": {"signal": "datum.value === 'Threshold' ? 2 : 1.5"},
             "strokeDash": {"signal": "datum.value === 'Threshold' ? [2, 2.7] : null"},
             "opacity": {"value": 1}}}}}}
     }},
    {"data": {"name": "h2"}, "mark": {"type": "area", "interpolate": "step-after", "fill": {"expr": "hatchA"}},
     "encoding": {"x": {"field": "c", "type": "quantitative"}, "y": {"field": "n", "type": "quantitative"}, "y2": {"datum": 1}}},
    {"data": {"name": "h2"}, "mark": {"type": "area", "interpolate": "step-after", "fill": {"expr": "hatchB"}},
     "encoding": {"x": {"field": "c", "type": "quantitative"}, "y": {"field": "n", "type": "quantitative"}, "y2": {"datum": 1}}},
    {"data": {"name": "h2"}, "mark": {"type": "line", "interpolate": "step-after", "color": "#8c5a9f", "strokeWidth": 1.5},
     "encoding": {"x": {"field": "c", "type": "quantitative"}, "y": {"field": "n", "type": "quantitative"}}},
    {"data": {"name": "t2"}, "mark": {"type": "rule", "strokeDash": [2, 2.7], "strokeWidth": 2},
     "encoding": {"x": {"field": "t", "type": "quantitative"}, "color": {"datum": "Threshold", "type": "nominal"}}}
  ]
}
]
}
